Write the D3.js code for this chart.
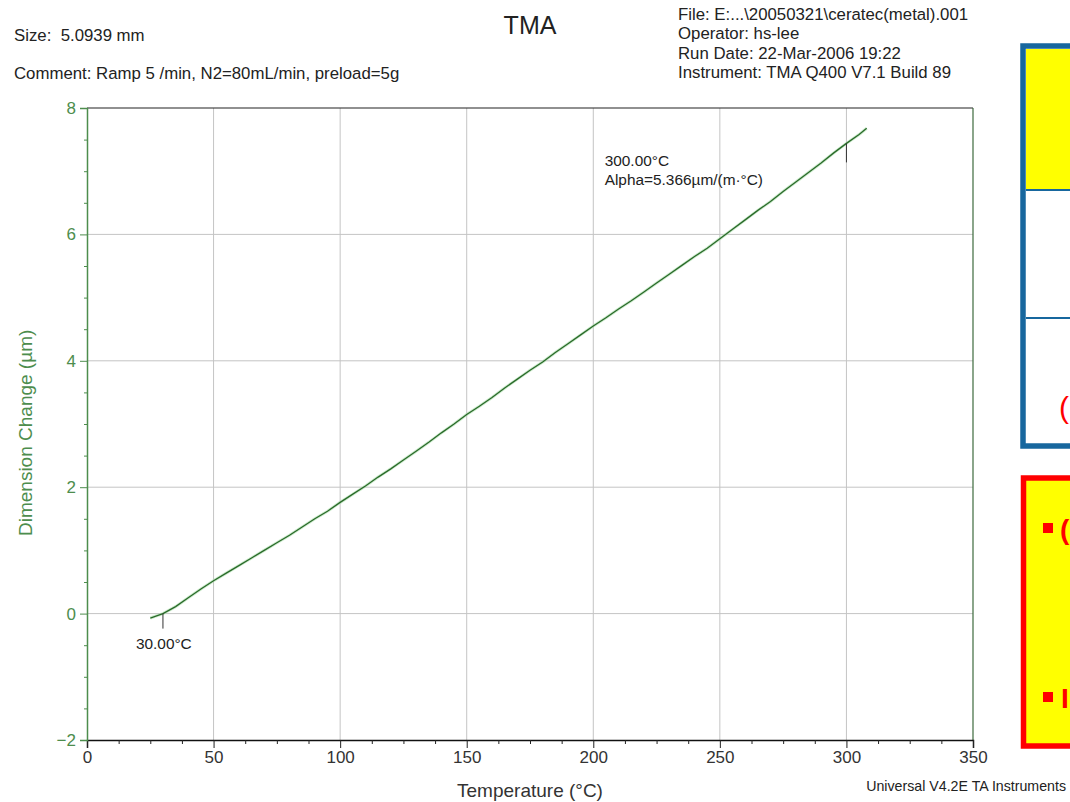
<!DOCTYPE html>
<html>
<head>
<meta charset="utf-8">
<script src="https://cdn.jsdelivr.net/npm/d3@7"></script>
<style>
  body { margin: 0; background: #ffffff; }
  svg { display: block; font-family: 'Liberation Sans', Arial, sans-serif; }
  text { white-space: pre; }
</style>
</head>
<body>
<div id="graph"></div>
<script>
// The data...
var temps = [ 25, 30, 35, 40, 45, 50, 55, 60, 65, 70, 75, 80, 85, 90, 95,
              100, 105, 110, 115, 120, 125, 130, 135, 140, 145, 150, 155, 160, 165, 170,
              175, 180, 185, 190, 195, 200, 205, 210, 215, 220, 225, 230, 235, 240, 245,
              250, 255, 260, 265, 270, 275, 280, 285, 290, 295, 300, 305, 308 ];
var dimChange = [ -0.07, 0.00, 0.11, 0.25, 0.39, 0.52, 0.64, 0.76, 0.88, 1.00, 1.12, 1.24, 1.37, 1.50, 1.62,
                  1.76, 1.89, 2.02, 2.16, 2.29, 2.43, 2.57, 2.71, 2.86, 3.00, 3.15, 3.28, 3.42, 3.57, 3.71,
                  3.85, 3.98, 4.13, 4.27, 4.41, 4.55, 4.68, 4.82, 4.95, 5.09, 5.23, 5.37, 5.51, 5.65, 5.78,
                  5.93, 6.08, 6.23, 6.38, 6.52, 6.68, 6.83, 6.98, 7.13, 7.29, 7.44, 7.58, 7.68 ];

var xTicks = [ 0, 50, 100, 150, 200, 250, 300, 350 ];
var yTicks = [ -2, 0, 2, 4, 6, 8 ];

var headerLeft  = [ 'Size:  5.0939 mm', 'Comment: Ramp 5 /min, N2=80mL/min, preload=5g' ];
var headerRight = [ 'File: E:...\\20050321\\ceratec(metal).001', 'Operator: hs-lee',
                    'Run Date: 22-Mar-2006 19:22', 'Instrument: TMA Q400 V7.1 Build 89' ];

// annotated points [temp, label lines]
var markStart = { t: 30,  labels: [ '30.00°C' ] };
var markEnd   = { t: 300, labels: [ '300.00°C', 'Alpha=5.366µm/(m·°C)' ] };

var W = 1070, H = 802;
var margin = { top: 108, right: 97, bottom: 62, left: 87 };
var width  = W - margin.left - margin.right;   // 886
var height = H - margin.top - margin.bottom;   // 632

var green = '#4d8d4d';
var lineGreen = '#2a6a2a';
var font = "'Liberation Sans', Arial, sans-serif";

var svg = d3.select('#graph').append('svg')
            .attr('width', W)
            .attr('height', H);

var g = svg.append('g')
           .attr('transform', 'translate(' + margin.left + ',' + margin.top + ')');

var xScale = d3.scaleLinear().domain([0, 350]).range([0, width]);
var yScale = d3.scaleLinear().domain([-2, 8]).range([height, 0]);

// grid lines
g.selectAll('.vgrid')
 .data(xTicks.slice(1, -1))
 .enter().append('line')
 .attr('x1', function(d) { return xScale(d); })
 .attr('x2', function(d) { return xScale(d); })
 .attr('y1', 0).attr('y2', height)
 .attr('stroke', '#c4c4c4').attr('stroke-width', 1);

g.selectAll('.hgrid')
 .data(yTicks.slice(1, -1))
 .enter().append('line')
 .attr('x1', 0).attr('x2', width)
 .attr('y1', function(d) { return yScale(d); })
 .attr('y2', function(d) { return yScale(d); })
 .attr('stroke', '#c4c4c4').attr('stroke-width', 1);

// frame top / right
g.append('line').attr('x1', 0).attr('x2', width).attr('y1', 0).attr('y2', 0)
 .attr('stroke', '#222').attr('stroke-width', 1.2);
g.append('line').attr('x1', width).attr('x2', width).attr('y1', 0).attr('y2', height)
 .attr('stroke', '#3d6a3d').attr('stroke-width', 1.2);

// X axis (major + minor)
var xAxis = d3.axisBottom(xScale).tickValues(xTicks).tickSize(8).tickPadding(3);
var xAxisMinor = d3.axisBottom(xScale).tickValues(d3.range(0, 351, 12.5).filter(function(v) { return v % 50 != 0; }))
                   .tickSize(4).tickFormat('');

var gx = g.append('g').attr('transform', 'translate(0,' + height + ')').call(xAxis);
g.append('g').attr('transform', 'translate(0,' + height + ')').call(xAxisMinor)
 .select('.domain').remove();
gx.selectAll('text').attr('font-size', '17px').attr('fill', '#333')
  .attr('font-family', font);
gx.select('.domain').attr('stroke', '#111').attr('stroke-width', 1.5);
g.selectAll('.tick line').attr('stroke', '#222');

// Y axis
var yAxis = d3.axisLeft(yScale).tickValues(yTicks).tickSize(7).tickPadding(4);
var yAxisMinor = d3.axisLeft(yScale).tickValues(d3.range(-2, 8.01, 0.5).filter(function(v) { return v % 2 != 0; }))
                   .tickSize(3).tickFormat('');
var gy = g.append('g').call(yAxis);
var gyMinor = g.append('g').call(yAxisMinor);
gyMinor.select('.domain').remove();
gy.select('.domain').attr('stroke', green).attr('stroke-width', 1.5);
gy.selectAll('.tick line').attr('stroke', green);
gyMinor.selectAll('.tick line').attr('stroke', green);
gy.selectAll('text').attr('font-size', '17px').attr('fill', green)
  .attr('font-family', font);

// the curve
var line = d3.line()
             .x(function(d, i) { return xScale(temps[i]); })
             .y(function(d) { return yScale(d); });

g.append('path')
 .datum(dimChange)
 .attr('d', line)
 .attr('fill', 'none')
 .attr('stroke', '#a6dca6')
 .attr('stroke-width', 3)
 .attr('opacity', 0.55);
g.append('path')
 .datum(dimChange)
 .attr('d', line)
 .attr('fill', 'none')
 .attr('stroke', lineGreen)
 .attr('stroke-width', 1.3);

// markers
function valueAt(t) { return dimChange[temps.indexOf(t)]; }

g.append('line')
 .attr('x1', xScale(markStart.t)).attr('x2', xScale(markStart.t))
 .attr('y1', yScale(valueAt(markStart.t))).attr('y2', yScale(valueAt(markStart.t)) + 15)
 .attr('stroke', '#333').attr('stroke-width', 1);
g.append('text')
 .attr('x', xScale(markStart.t) - 27).attr('y', yScale(valueAt(markStart.t)) + 35)
 .attr('font-size', '15.4px').attr('fill', '#222')
 .text(markStart.labels[0]);

g.append('line')
 .attr('x1', xScale(markEnd.t)).attr('x2', xScale(markEnd.t))
 .attr('y1', yScale(valueAt(markEnd.t))).attr('y2', yScale(valueAt(markEnd.t)) + 19)
 .attr('stroke', '#333').attr('stroke-width', 1);
markEnd.labels.forEach(function(s, i) {
    g.append('text')
     .attr('x', xScale(204.5)).attr('y', 58 + i * 19)
     .attr('font-size', '15.4px').attr('fill', '#222')
     .text(s);
});

// axis titles
svg.append('text')
   .attr('x', margin.left + xScale(175)).attr('y', 797)
   .attr('text-anchor', 'middle').attr('font-size', '19px').attr('fill', '#333')
   .text('Temperature (°C)');

svg.append('text')
   .attr('transform', 'translate(32,' + (margin.top + yScale(2.86)) + ') rotate(-90)')
   .attr('text-anchor', 'middle').attr('font-size', '19px').attr('fill', green)
   .text('Dimension Change (µm)');

// header texts
svg.append('text').attr('x', 530).attr('y', 34).attr('text-anchor', 'middle')
   .attr('font-size', '25px').attr('fill', '#222').text('TMA');

headerLeft.forEach(function(s, i) {
    svg.append('text').attr('x', 14).attr('y', 41 + i * 38)
       .attr('font-size', '16.8px').attr('fill', '#222').text(s);
});
headerRight.forEach(function(s, i) {
    svg.append('text').attr('x', 678).attr('y', 20 + i * 19.3)
       .attr('font-size', '16.8px').attr('fill', '#222').text(s);
});

svg.append('text').attr('x', 1066).attr('y', 791).attr('text-anchor', 'end')
   .attr('font-size', '14.2px').attr('fill', '#222').text('Universal V4.2E TA Instruments');

// cropped slide boxes on the right
var blue = '#17679e';
svg.append('rect').attr('x', 1023).attr('y', 46).attr('width', 60).attr('height', 400)
   .attr('fill', '#ffffff').attr('stroke', blue).attr('stroke-width', 5.5);
svg.append('rect').attr('x', 1026).attr('y', 49).attr('width', 50).attr('height', 140)
   .attr('fill', '#ffff00');
svg.append('line').attr('x1', 1026).attr('x2', 1070).attr('y1', 190).attr('y2', 190)
   .attr('stroke', blue).attr('stroke-width', 2);
svg.append('line').attr('x1', 1026).attr('x2', 1070).attr('y1', 318).attr('y2', 318)
   .attr('stroke', blue).attr('stroke-width', 2);
svg.append('text').attr('x', 1059).attr('y', 418).attr('font-size', '30px')
   .attr('fill', '#ff0000').text('(');

svg.append('rect').attr('x', 1023.5).attr('y', 478).attr('width', 60).attr('height', 268)
   .attr('fill', '#ffff00').attr('stroke', '#ff0000').attr('stroke-width', 5.5);
[528, 697].forEach(function(y) {
    svg.append('rect').attr('x', 1043).attr('y', y - 5).attr('width', 10).attr('height', 10)
       .attr('fill', '#ff0000');
});
svg.append('text').attr('x', 1060).attr('y', 539).attr('font-size', '28px')
   .attr('font-weight', 'bold').attr('fill', '#ff0000').text('(');
svg.append('text').attr('x', 1061).attr('y', 708).attr('font-size', '28px')
   .attr('font-weight', 'bold').attr('fill', '#ff0000').text('I');
</script>
</body>
</html>
